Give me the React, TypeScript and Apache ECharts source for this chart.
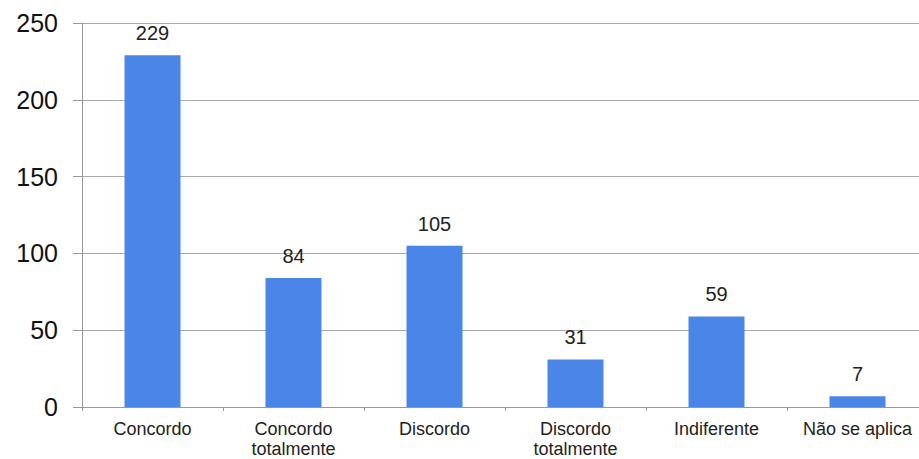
import React, { useEffect, useRef } from "react";
import * as echarts from "echarts";

const categories = ["Concordo", "Concordo\ntotalmente", "Discordo", "Discordo\ntotalmente", "Indiferente", "Não se aplica"];
const values = [229, 84, 105, 31, 59, 7];
const yTicks = { min: 0, max: 250, interval: 50 };

export default function App() {
  const ref = useRef<HTMLDivElement>(null);
  useEffect(() => {
    const chart = echarts.init(ref.current!, null, { renderer: "svg" });
    chart.setOption({
      animation: false,
      backgroundColor: "#ffffff",
      textStyle: { fontFamily: "Arial, 'Liberation Sans', sans-serif" },
      grid: { left: 82, right: 1, top: 23, bottom: 51, containLabel: false },
      xAxis: {
        type: "category",
        data: categories,
        axisLine: { show: true, lineStyle: { color: "#999999", width: 1 } },
        axisTick: { show: true, alignWithLabel: false, length: 4, lineStyle: { color: "#999999" } },
        axisLabel: {
          color: "#222222",
          fontSize: 18,
          lineHeight: 20,
          margin: 12,
          interval: 0,
          fontFamily: "Arial, 'Liberation Sans', sans-serif",
        },
      },
      yAxis: {
        type: "value",
        min: yTicks.min,
        max: yTicks.max,
        interval: yTicks.interval,
        axisLine: { show: true, lineStyle: { color: "#999999", width: 1 } },
        axisTick: { show: true, inside: false, length: 9, lineStyle: { color: "#999999" } },
        splitLine: { show: true, lineStyle: { color: "#aaaaaa", width: 1 } },
        axisLabel: {
          color: "#111111",
          fontSize: 25,
          margin: 24,
          fontFamily: "Arial, 'Liberation Sans', sans-serif",
        },
      },
      series: [
        {
          type: "bar",
          data: values,
          barWidth: 56,
          itemStyle: { color: "#4a86e8" },
          label: {
            show: true,
            position: "top",
            distance: 12,
            color: "#222222",
            fontSize: 20,
            fontFamily: "Arial, 'Liberation Sans', sans-serif",
          },
        },
      ],
    });
    return () => chart.dispose();
  }, []);
  return (
    <div style={{ position: "fixed", left: 0, top: 0, width: 919, height: 459, overflow: "hidden", background: "#fff" }}>
      <div ref={ref} style={{ width: 929, height: 459 }} />
    </div>
  );
}
